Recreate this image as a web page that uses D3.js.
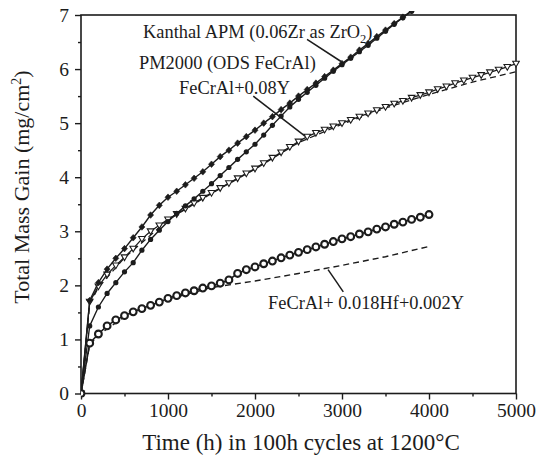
<!DOCTYPE html>
<html>
<head>
<meta charset="utf-8">
<script src="https://cdn.jsdelivr.net/npm/d3@7"></script>
<style>
  html, body { margin: 0; padding: 0; background: #fff; }
  svg { display: block; font-family: "Liberation Serif", "Times New Roman", serif; }
</style>
</head>
<body>
<svg id="chart" width="536" height="457"></svg>
<script>
// 100 h thermal cycles at 1200 °C
const cycleHours = d3.range(100, 5001, 100);

// Total mass gain (mg/cm²) at the end of each 100 h cycle
const kanthalAPM = [1.72, 2.05, 2.30, 2.50, 2.68, 2.88, 3.08, 3.30, 3.48, 3.63,
  3.74, 3.86, 3.98, 4.10, 4.24, 4.38, 4.50, 4.63, 4.75, 4.87,
  5.00, 5.12, 5.25, 5.37, 5.50, 5.62, 5.74, 5.86, 5.98, 6.10,
  6.22, 6.35, 6.47, 6.60, 6.72, 6.84, 6.96, 7.08];
const pm2000 = [1.25, 1.60, 1.85, 2.05, 2.25, 2.42, 2.65, 2.85, 3.02, 3.18,
  3.33, 3.47, 3.60, 3.74, 3.88, 4.03, 4.18, 4.33, 4.47, 4.61,
  4.78, 4.96, 5.13, 5.30, 5.44, 5.57, 5.70, 5.83, 5.96, 6.08,
  6.20, 6.32, 6.44, 6.57, 6.70, 6.83, 6.95, 7.07];
const fecralY = [1.70, 1.98, 2.20, 2.37, 2.52, 2.68, 2.86, 3.00, 3.11, 3.22,
  3.32, 3.42, 3.52, 3.62, 3.71, 3.80, 3.89, 3.98, 4.07, 4.16,
  4.26, 4.36, 4.46, 4.56, 4.66, 4.75, 4.82, 4.88, 4.94, 5.00,
  5.06, 5.12, 5.18, 5.24, 5.30, 5.36, 5.41, 5.47, 5.52, 5.57,
  5.63, 5.68, 5.74, 5.79, 5.84, 5.89, 5.94, 5.99, 6.04, 6.10];
const fecralHfY = [0.93, 1.10, 1.25, 1.36, 1.44, 1.51, 1.57, 1.63, 1.69, 1.76,
  1.81, 1.86, 1.90, 1.95, 1.99, 2.04, 2.10, 2.22, 2.29, 2.34,
  2.40, 2.45, 2.51, 2.56, 2.61, 2.66, 2.71, 2.76, 2.81, 2.86,
  2.90, 2.95, 2.99, 3.04, 3.08, 3.13, 3.17, 3.22, 3.26, 3.31];

// Second specimens (dashed curves), read every 500 h
const dashedYHours = [0, 100, 200, 500, 1000, 1500, 2000, 2500, 3000, 3500, 4000, 4500, 5000];
const dashedY = [0, 1.66, 1.96, 2.51, 3.21, 3.70, 4.15, 4.64, 4.98, 5.28, 5.53, 5.76, 5.95];
const dashedHfHours = [0, 100, 200, 500, 1000, 1500, 2000, 2500, 3000, 3500, 4000];
const dashedHf = [0, 0.90, 1.08, 1.42, 1.74, 1.96, 2.08, 2.22, 2.37, 2.53, 2.72];

// Axis ticks
const xTicks = [0, 1000, 2000, 3000, 4000, 5000];
const xMinorTicks = [500, 1500, 2500, 3500, 4500];
const yTicks = [0, 1, 2, 3, 4, 5, 6, 7];
const yMinorTicks = [0.5, 1.5, 2.5, 3.5, 4.5, 5.5, 6.5];

const ink = "#1c1c1c";
const W = 536, H = 457;
const margin = { top: 15, right: 20, bottom: 63.5, left: 81 };
const svg = d3.select("#chart");

const x = d3.scaleLinear().domain([0, 5000]).range([margin.left, W - margin.right]);
const y = d3.scaleLinear().domain([0, 7]).range([H - margin.bottom, margin.top]);

// clip for curves leaving the top of the frame
svg.append("defs").append("clipPath").attr("id", "plot")
  .append("rect")
  .attr("x", margin.left).attr("y", margin.top - 4)
  .attr("width", x(5000) - margin.left + 4).attr("height", y(0) - margin.top + 8);

function pairs(hours, vals, withOrigin) {
  const p = vals.map((v, i) => [hours[i], v]);
  return withOrigin ? [[0, 0]].concat(p) : p;
}
const line = d3.line().x(d => x(d[0])).y(d => y(d[1]));

// axes
const xAxis = svg.append("g").attr("transform", `translate(0,${y(0)})`)
  .call(d3.axisBottom(x).tickValues(xTicks).tickFormat(d3.format("d")).tickSize(6).tickPadding(4));
const xMinor = svg.append("g").attr("transform", `translate(0,${y(0)})`)
  .call(d3.axisBottom(x).tickValues(xMinorTicks).tickFormat("").tickSize(3));
const yAxis = svg.append("g").attr("transform", `translate(${x(0)},0)`)
  .call(d3.axisLeft(y).tickValues(yTicks).tickFormat(d3.format("d")).tickSize(6).tickPadding(6));
const yMinor = svg.append("g").attr("transform", `translate(${x(0)},0)`)
  .call(d3.axisLeft(y).tickValues(yMinorTicks).tickFormat("").tickSize(3));
[xAxis, xMinor, yAxis, yMinor].forEach(g => {
  g.select(".domain").remove();
  g.selectAll(".tick line").attr("stroke", ink).attr("stroke-width", 1.4);
  g.selectAll(".tick text").attr("fill", ink).attr("font-size", 19.5)
    .attr("font-family", "Liberation Serif, Times New Roman, serif");
});

// frame
svg.append("rect")
  .attr("x", x(0)).attr("y", y(7))
  .attr("width", x(5000) - x(0)).attr("height", y(0) - y(7))
  .attr("fill", "none").attr("stroke", ink).attr("stroke-width", 1.6);

const plot = svg.append("g").attr("clip-path", "url(#plot)");

// dashed curves
plot.append("path").datum(pairs(dashedYHours, dashedY, false))
  .attr("d", line).attr("fill", "none").attr("stroke", ink)
  .attr("stroke-width", 1.3).attr("stroke-dasharray", "6,4");
plot.append("path").datum(pairs(dashedHfHours, dashedHf, false))
  .attr("d", line).attr("fill", "none").attr("stroke", ink)
  .attr("stroke-width", 1.4).attr("stroke-dasharray", "6,4");

// FeCrAl+0.08Y: open down-pointing triangles
const triData = pairs(cycleHours, fecralY, true);
plot.append("path").datum(triData).attr("d", line)
  .attr("fill", "none").attr("stroke", ink).attr("stroke-width", 1.3);
plot.selectAll(".tri").data(triData).join("path").attr("class", "tri")
  .attr("transform", d => `translate(${x(d[0])},${y(d[1])})`)
  .attr("d", "M-3.3,-2.4 L3.3,-2.4 L0,3.3 Z")
  .attr("fill", "#fff").attr("stroke", ink).attr("stroke-width", 1.1);

// PM2000: filled dots
const pmData = pairs(cycleHours, pm2000, true);
plot.append("path").datum(pmData).attr("d", line)
  .attr("fill", "none").attr("stroke", ink).attr("stroke-width", 1.4);
plot.selectAll(".dot").data(pmData).join("circle").attr("class", "dot")
  .attr("cx", d => x(d[0])).attr("cy", d => y(d[1])).attr("r", 2.6)
  .attr("fill", ink);

// Kanthal APM: filled diamonds
const kData = pairs(cycleHours, kanthalAPM, true);
plot.append("path").datum(kData).attr("d", line)
  .attr("fill", "none").attr("stroke", ink).attr("stroke-width", 1.4);
plot.selectAll(".dia").data(kData).join("path").attr("class", "dia")
  .attr("transform", d => `translate(${x(d[0])},${y(d[1])})`)
  .attr("d", "M0,-3.3 L3,0 L0,3.3 L-3,0 Z")
  .attr("fill", ink).attr("stroke", ink).attr("stroke-width", 0.6);

// FeCrAl+0.018Hf+0.002Y: heavy open circles
const hfData = pairs(cycleHours, fecralHfY, true);
plot.append("path").datum(hfData).attr("d", line)
  .attr("fill", "none").attr("stroke", ink).attr("stroke-width", 1.6);
plot.selectAll(".ring").data(hfData).join("circle").attr("class", "ring")
  .attr("cx", d => x(d[0])).attr("cy", d => y(d[1])).attr("r", 3.4)
  .attr("fill", "#fff").attr("stroke", ink).attr("stroke-width", 2.1);

// leader lines from labels to curves
const leaders = [
  [[2598, 6.55], [2989, 6.14]],
  [[1980, 5.50], [2575, 4.76]],
  [[2840, 2.29], [3015, 1.88]]
];
svg.selectAll(".leader").data(leaders).join("line").attr("class", "leader")
  .attr("x1", d => x(d[0][0])).attr("y1", d => y(d[0][1]))
  .attr("x2", d => x(d[1][0])).attr("y2", d => y(d[1][1]))
  .attr("stroke", ink).attr("stroke-width", 1.5);

// curve labels
const labelSize = 18.4;
const t1 = svg.append("text").attr("x", 143).attr("y", 38).attr("font-size", labelSize).attr("fill", ink);
t1.append("tspan").text("Kanthal APM (0.06Zr as ZrO");
t1.append("tspan").attr("font-size", 12.5).attr("dy", 4.5).text("2");
t1.append("tspan").attr("dy", -4.5).text(")");
svg.append("text").attr("x", 139).attr("y", 69).attr("font-size", labelSize).attr("fill", ink)
  .text("PM2000 (ODS FeCrAl)");
svg.append("text").attr("x", 179).attr("y", 94).attr("font-size", labelSize).attr("fill", ink)
  .text("FeCrAl+0.08Y");
svg.append("text").attr("x", 268).attr("y", 309).attr("font-size", labelSize).attr("fill", ink)
  .text("FeCrAl+ 0.018Hf+0.002Y");

// axis titles
svg.append("text").attr("x", 301).attr("y", 450)
  .attr("text-anchor", "middle").attr("font-size", 23).attr("fill", ink)
  .text("Time (h) in 100h cycles at 1200°C");
const yt = svg.append("text")
  .attr("transform", "translate(29,187) rotate(-90)")
  .attr("text-anchor", "middle").attr("font-size", 22).attr("fill", ink);
yt.append("tspan").text("Total Mass Gain (mg/cm");
yt.append("tspan").attr("font-size", 14).attr("dy", -8).text("2");
yt.append("tspan").attr("dy", 8).text(")");
</script>
</body>
</html>
